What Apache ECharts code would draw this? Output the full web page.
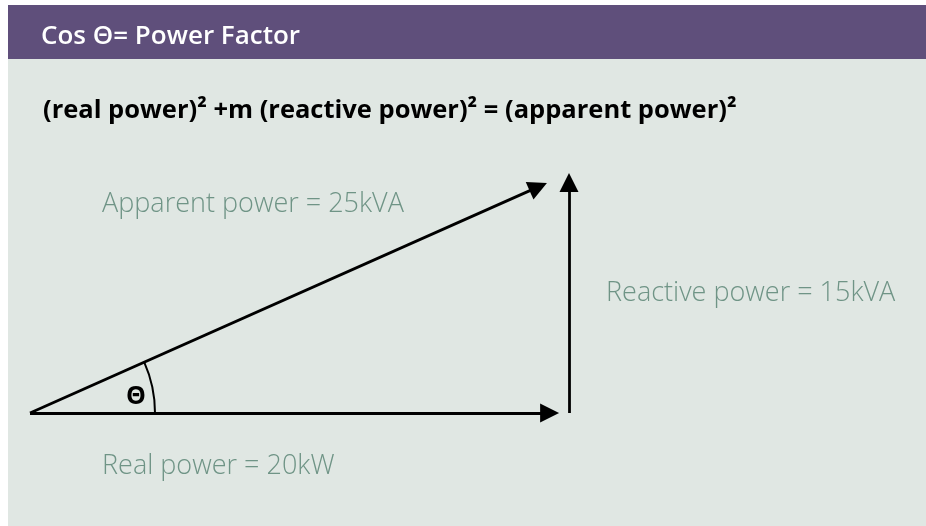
<!DOCTYPE html>
<html>
<head>
<meta charset="utf-8">
<script src="https://cdn.jsdelivr.net/npm/echarts@6/dist/echarts.min.js"></script>
<style>
  html, body { margin: 0; padding: 0; background: #fff; }
  #chart { width: 926px; height: 526px; }
</style>
</head>
<body>
<div id="chart"></div>
<script>
// power triangle values
const powerNames = ['Real power', 'Reactive power', 'Apparent power'];
const powerValues = [20, 15, 25];
const powerUnits = ['kW', 'kVA', 'kVA'];
const titleText = 'Cos Θ= Power Factor';
const formulaText = '(real power)² +m (reactive power)² = (apparent power)²';

const realP = powerValues[0];
const reactiveP = powerValues[1];

// arrow ends (the drawing leaves a small gap before the corner)
const realEnd = [realP * 0.964, 0];
const reactiveEnd = [realP, reactiveP];
const apparentEnd = [realP * 0.943, reactiveP * 0.981];

const labelColor = '#6f9486';
const labelFont = '300 27px "Open Sans"';
const myChart = echarts.init(document.getElementById('chart'));

const option = {
  backgroundColor: '#fff',
  animation: false,
  grid: { left: 30, top: 182.5, width: 539, height: 230.5 },
  xAxis: { type: 'value', min: 0, max: realP, show: false },
  yAxis: { type: 'value', min: 0, max: reactiveP, show: false },
  graphic: [
    { type: 'rect', z: -10, shape: { x: 8, y: 5, width: 918, height: 521 }, style: { fill: '#e0e7e3' } },
    { type: 'rect', z: -9, shape: { x: 8, y: 5, width: 918, height: 54 }, style: { fill: '#5f4f7b' } },
    { type: 'text', x: 41, y: 37, style: { text: titleText, fill: '#fff', font: '600 26px "Open Sans"', verticalAlign: 'middle' } },
    { type: 'text', x: 43, y: 111, style: { text: formulaText, fill: '#000', font: 'bold 25.5px "Open Sans"', verticalAlign: 'middle' } },
    { type: 'text', x: 102, y: 204, style: { text: powerNames[2] + ' = ' + powerValues[2] + powerUnits[2], fill: labelColor, font: labelFont, verticalAlign: 'middle' } },
    { type: 'text', x: 606, y: 293, style: { text: powerNames[1] + ' = ' + powerValues[1] + powerUnits[1], fill: labelColor, font: labelFont, verticalAlign: 'middle' } },
    { type: 'text', x: 102, y: 466, style: { text: powerNames[0] + ' = ' + powerValues[0] + powerUnits[0], fill: labelColor, font: labelFont, verticalAlign: 'middle' } },
    { type: 'text', x: 136, y: 397, style: { text: 'Θ', fill: '#000', font: 'bold 25px "Open Sans"', align: 'center', verticalAlign: 'middle' } }
  ],
  series: [
    {
      type: 'lines',
      coordinateSystem: 'cartesian2d',
      clip: false,
      symbol: ['none', 'triangle'],
      symbolSize: [12, 19],
      lineStyle: { color: '#000', width: 2.8, opacity: 1, curveness: 0 },
      data: [
        { coords: [[0, 0], realEnd] },
        { coords: [[realP, 0], reactiveEnd] },
        { coords: [[0, 0], apparentEnd] }
      ]
    },
    {
      type: 'custom',
      coordinateSystem: 'cartesian2d',
      clip: false,
      data: [[0, 0]],
      renderItem: function (params, api) {
        const o = api.coord([0, 0]);
        const t = api.coord(apparentEnd);
        const ang = Math.atan2(t[1] - o[1], t[0] - o[0]);
        return {
          type: 'arc',
          shape: { cx: o[0], cy: o[1], r: 125, startAngle: ang, endAngle: 0 },
          style: { stroke: '#000', lineWidth: 2, fill: null }
        };
      }
    }
  ]
};
option && myChart.setOption(option);
</script>
</body>
</html>
